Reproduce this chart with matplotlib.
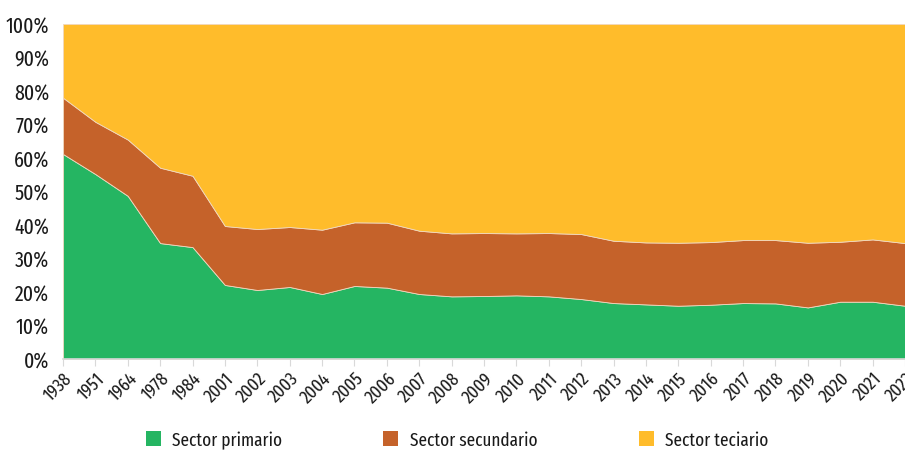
import matplotlib.pyplot as plt
from matplotlib.patches import Patch

# Datos (porcentaje del empleo por sector)
anios = ["1938", "1951", "1964", "1978", "1984", "2001", "2002", "2003", "2004",
         "2005", "2006", "2007", "2008", "2009", "2010", "2011", "2012", "2013",
         "2014", "2015", "2016", "2017", "2018", "2019", "2020", "2021", "2022"]

primario = [61.2, 55.2, 48.7, 34.6, 33.4, 22.1, 20.6, 21.5, 19.4,
            21.8, 21.3, 19.4, 18.7, 18.8, 19.0, 18.7, 17.9, 16.7,
            16.3, 15.9, 16.2, 16.7, 16.6, 15.4, 17.1, 17.1, 15.9]

# borde superior acumulado de primario + secundario
acumulado_sec = [78.0, 70.8, 65.5, 57.1, 54.7, 39.7, 38.8, 39.4, 38.6,
                 40.8, 40.7, 38.3, 37.5, 37.6, 37.5, 37.6, 37.3, 35.3,
                 34.8, 34.7, 34.9, 35.5, 35.5, 34.7, 35.0, 35.7, 34.6]

secundario = [a - p for a, p in zip(acumulado_sec, primario)]
terciario = [100 - a for a in acumulado_sec]

colores = ["#25B562", "#C5622A", "#FFBC2B"]
etiquetas = ["Sector primario", "Sector secundario", "Sector teciario"]

plt.rcParams['font.family'] = ["Fira Sans Extra Condensed", "DejaVu Sans"]

fig = plt.figure(figsize=(9.05, 4.56), dpi=100)
ax = fig.add_axes([63 / 905, 96 / 456, 1 - 63 / 905, 335 / 456])

x = list(range(len(anios)))
ax.stackplot(x, primario, secundario, terciario, colors=colores,
             edgecolor="#f0d8c0", linewidth=0.6)

ax.set_xlim(0, len(anios) - 1)
ax.set_ylim(0, 100)
ax.set_yticks(range(0, 101, 10))
ax.set_yticklabels([f"{v}%" for v in range(0, 101, 10)], fontsize=15.5, color="#1a1a1a")
ax.set_xticks(x)
ax.set_xticklabels(anios, rotation=45, ha="right", rotation_mode="anchor",
                   fontsize=13.5, color="#1a1a1a")

for s in ["top", "right", "left"]:
    ax.spines[s].set_visible(False)
ax.spines["bottom"].set_color("#d9d9d9")
ax.spines["bottom"].set_linewidth(1.2)
ax.tick_params(axis="y", length=0, pad=10)
ax.tick_params(axis="x", length=5, color="#d9d9d9", pad=2)

handles = [Patch(facecolor=c, edgecolor="none") for c in colores]
fig.legend(handles, etiquetas, loc="center", bbox_to_anchor=(0.505, 1 - 441 / 456),
           ncol=3, frameon=False, fontsize=13.5, handlelength=0.8, handleheight=0.85,
           handletextpad=0.6, columnspacing=5.4, labelcolor="#1a1a1a")

plt.savefig("out.png", dpi=100)
